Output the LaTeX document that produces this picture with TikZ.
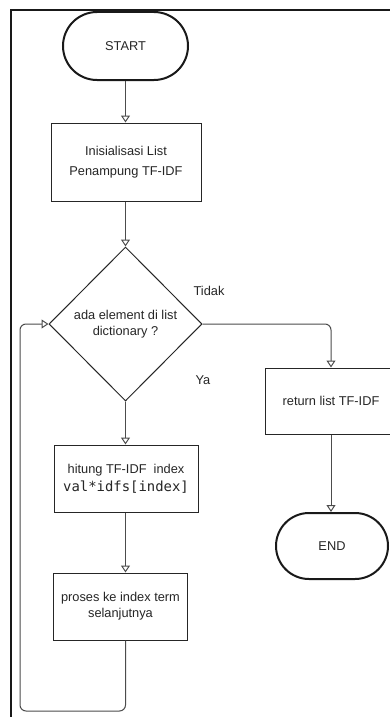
\documentclass[tikz,border=0pt]{standalone}
\usepackage{fontspec}
\setmainfont{Liberation Sans}
\newfontfamily\codefont{DejaVu Sans Mono}
\usetikzlibrary{shapes.geometric,shapes.misc,arrows.meta}
\begin{document}
\begin{tikzpicture}[x=1pt,y=-1pt,
  every node/.style={font=\fontsize{12.8}{16}\selectfont, text=black!85},
  term/.style={rounded rectangle, draw=black!90, line width=2pt, inner sep=0pt},
  proc/.style={rectangle, draw=black!85, line width=1pt, align=center, inner sep=0pt},
  decision/.style={diamond, draw=black!85, line width=1pt, align=center, inner sep=0pt},
  flow/.style={draw=black!70, line width=1pt, rounded corners=6pt,
    -{Triangle[open, length=7pt, width=9pt]}},
  lbl/.style={inner sep=0pt}
]
\useasboundingbox (0,0) rectangle (390,717);
\fill[white] (0,0) rectangle (390,717);

% outer frame
\draw[line width=2pt, black!90] (11,718) -- (11,10.5) -- (392,10.5);

% flowchart nodes
\node[term, minimum width=125, minimum height=68] (start) at (125.5,46) {START};
\node[proc, minimum width=150, minimum height=78,
      font=\fontsize{12.8}{20}\selectfont] (init) at (126,162)
      {Inisialisasi List\\Penampung TF-IDF};
\node[decision, minimum width=153, minimum height=154] (dec) at (125.5,324)
      {ada element di list\\dictionary ?};
\node[proc, minimum width=144, minimum height=67,
      font=\fontsize{12.8}{18}\selectfont] (hitung) at (126,478.5)
      {hitung TF-IDF\ \ index\\{\codefont\fontsize{13.9}{18}\selectfont val*idfs[index]}};
\node[proc, minimum width=134, minimum height=67] (proses) at (120.5,606.5)
      {proses ke index term\\selanjutnya};
\node[proc, minimum width=132, minimum height=66] (ret) at (331,401)
      {return list TF-IDF};
\node[term, minimum width=112, minimum height=66] (end) at (332,546) {END};

% branch labels
\node[lbl] (tidak) at (209,291) {Tidak};
\node[lbl] (ya) at (203,380) {Ya};

% connectors
\coordinate (loopc) at (20,711);
\draw[flow] (start.south) -- (start.south |- init.north);
\draw[flow] (init.south -| dec.north) -- (dec.north);
\draw[flow] (dec.east) -| (ret.north);
\draw[flow] (dec.south) -- (dec.south |- hitung.north);
\draw[flow] (dec.south |- hitung.south) -- (dec.south |- proses.north);
\draw[flow] (dec.south |- proses.south) |- (loopc) |- (dec.west);
\draw[flow] (ret.south) -- (ret.south |- end.north);
\end{tikzpicture}
\end{document}
